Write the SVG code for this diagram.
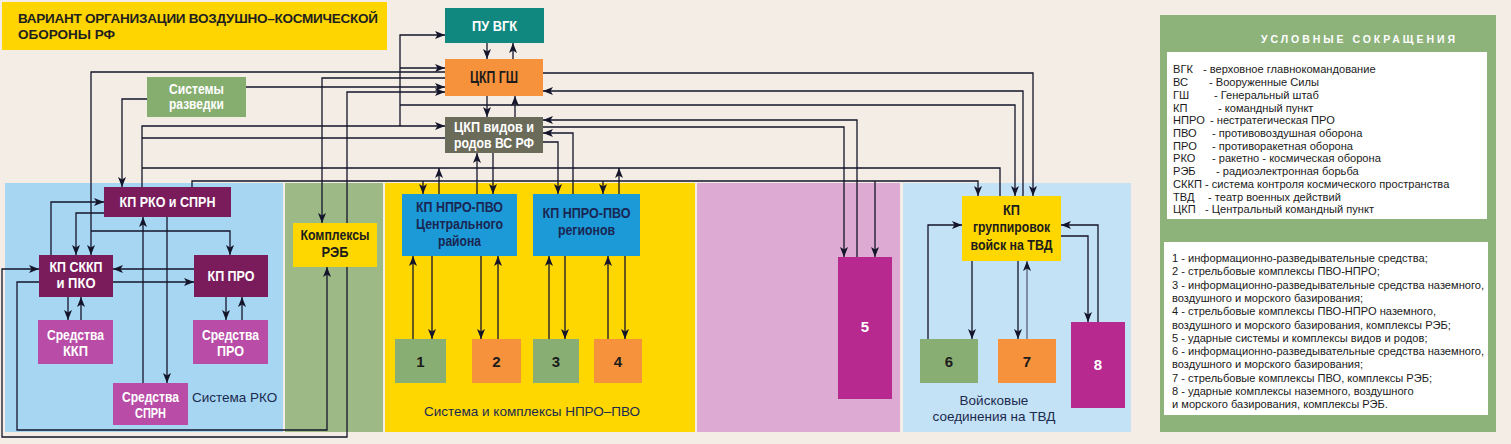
<svg xmlns="http://www.w3.org/2000/svg" width="1511" height="444" viewBox="0 0 1511 444">
<style>
.ln{fill:none;stroke:#14142a;stroke-width:1.3}
.ar{marker-end:url(#ah)}
.nb{font-family:"Liberation Sans Narrow","Liberation Sans",Arial,sans-serif;font-weight:bold;text-anchor:middle;font-size:15px}
.w{fill:#ffffff}
.d{fill:#1c1c1c}
.nv{fill:#1a2752}
.reg{font-family:"Liberation Sans",Arial,sans-serif;fill:#1b2a4e;font-size:13.5px}
.lg{font-family:"Liberation Sans",Arial,sans-serif;font-size:11.1px;fill:#1a1a1a}
.kp{fill:#7a1b5c}
.sr{fill:#b84ca6}
.bl{fill:#1c99d7}
.gr{fill:#89ae73}
.or{fill:#f6923b}
.pu{fill:#b7298f}
</style>
<defs>
<marker id="ah" viewBox="0 0 10 8" refX="10" refY="4" markerWidth="10" markerHeight="8" orient="auto" markerUnits="userSpaceOnUse"><path d="M0,0 L10,4 L0,8 L2.5,4 z" fill="#14142a"/></marker>
</defs>
<rect x="0" y="0" width="1511" height="444" fill="#f3ede5"/>

<g id="title">
<rect x="2" y="2" width="385" height="48" fill="#fed500"/>
<text x="18" y="23" font-family="Liberation Sans, Arial, sans-serif" font-weight="bold" font-size="13.5" fill="#1f1f1f" textLength="360">ВАРИАНТ ОРГАНИЗАЦИИ ВОЗДУШНО–КОСМИЧЕСКОЙ</text>
<text x="18" y="39" font-family="Liberation Sans, Arial, sans-serif" font-weight="bold" font-size="13.5" fill="#1f1f1f">ОБОРОНЫ РФ</text>
</g>

<g id="panels">
<rect x="5" y="183" width="278" height="249" fill="#a6d6f2"/>
<rect x="285" y="183" width="98" height="249" fill="#9dba86"/>
<rect x="385" y="183" width="310" height="249" fill="#fed700"/>
<rect x="697" y="183" width="203" height="249" fill="#dcaad3"/>
<rect x="903" y="183" width="228" height="249" fill="#c4e2f5"/>
<text class="reg" x="192" y="402">Система РКО</text>
<text class="reg" x="532" y="416" text-anchor="middle">Система и комплексы НПРО–ПВО</text>
<text class="reg" x="994" y="405" text-anchor="middle">Войсковые</text>
<text class="reg" x="994" y="421" text-anchor="middle">соединения на ТВД</text>
</g>

<g id="connectors">
<path class="ln ar" d="M487,43 V59"/>
<path class="ln ar" d="M513,59 V43"/>
<path class="ln ar" d="M487,96 V117"/>
<path class="ln ar" d="M515,117 V96"/>
<path class="ln ar" d="M142,187 V126 H445"/>
<path class="ln ar" d="M400,126 V35 H445"/>
<path class="ln ar" d="M400,68 H445"/>
<path class="ln ar" d="M400,105 H1015 V196"/>
<path class="ln" d="M445,138 H142"/>
<path class="ln" d="M142,168 H1000 V196"/>
<path class="ln ar" d="M439,194 V168"/>
<path class="ln ar" d="M619,194 V168"/>
<path class="ln ar" d="M192,187 V181 H978 V196"/>
<path class="ln ar" d="M423,181 V194"/>
<path class="ln ar" d="M603,181 V194"/>
<path class="ln ar" d="M875,181 V257"/>
<path class="ln ar" d="M445,72 H91 V255"/>
<path class="ln ar" d="M91,231 H230 V255"/>
<path class="ln ar" d="M445,78 H322 V223"/>
<path class="ln ar" d="M246,87 H445"/>
<path class="ln ar" d="M147,99 H122 V187"/>
<path class="ln ar" d="M347,200 V92 H445"/>
<path class="ln ar" d="M347,200 V437 H2 V269 H39"/>
<path class="ln ar" d="M543,73 H1033 V196"/>
<path class="ln ar" d="M1023,196 V91 H543"/>
<path class="ln ar" d="M857,257 V120 H543"/>
<path class="ln ar" d="M543,127 H844 V257"/>
<path class="ln ar" d="M573,194 V133 H543"/>
<path class="ln ar" d="M543,142 H558 V194"/>
<path class="ln ar" d="M477,194 V153"/>
<path class="ln ar" d="M493,153 V194"/>
<path class="ln ar" d="M413,339 V256"/>
<path class="ln ar" d="M432,256 V339"/>
<path class="ln ar" d="M481,256 V339"/>
<path class="ln ar" d="M498,339 V256"/>
<path class="ln ar" d="M549,339 V256"/>
<path class="ln ar" d="M565,256 V339"/>
<path class="ln ar" d="M608,339 V256"/>
<path class="ln ar" d="M625,256 V339"/>
<path class="ln ar" d="M928,339 V225 H962"/>
<path class="ln ar" d="M972,261 V339"/>
<path class="ln ar" d="M1018,261 V339"/>
<path class="ln ar" d="M1027,339 V261" style="stroke:#3a3a55;stroke-width:1"/>
<path class="ln ar" d="M1098,322 V225 H1061"/>
<path class="ln ar" d="M1061,236 H1088 V322"/>
<path class="ln ar" d="M104,213 H76 V255"/>
<path class="ln ar" d="M51,255 V202 H104"/>
<path class="ln ar" d="M68,297 V320"/>
<path class="ln ar" d="M81,320 V297"/>
<path class="ln ar" d="M226,297 V320"/>
<path class="ln ar" d="M242,320 V297"/>
<path class="ln ar" d="M194,269 H113"/>
<path class="ln ar" d="M113,282 H194"/>
<path class="ln ar" d="M39,282 H17 V430 H327 V267"/>
<path class="ln ar" d="M143,383 V217"/>
<path class="ln ar" d="M167,217 V383"/>
</g>

<g id="n-puvgk"><rect x="445" y="8" width="99" height="35" fill="#10877f"/><text class="nb w" x="494.5" y="31" textLength="45" lengthAdjust="spacingAndGlyphs">ПУ ВГК</text></g>
<g id="n-ckpgsh"><rect x="445" y="59" width="98" height="37" fill="#f6923b"/><text class="nb d" x="494" y="83" style="font-size:17px" textLength="48" lengthAdjust="spacingAndGlyphs">ЦКП ГШ</text></g>
<g id="n-ckpvidov"><rect x="445" y="117" width="98" height="36" fill="#6b6b5a"/><text class="nb w" x="494" y="132" textLength="80" lengthAdjust="spacingAndGlyphs">ЦКП видов и</text><text class="nb w" x="494" y="148" textLength="80" lengthAdjust="spacingAndGlyphs">родов ВС РФ</text></g>
<g id="n-razvedka"><rect x="147" y="77" width="99" height="40" fill="#86ae6f"/><text class="nb w" x="196.5" y="94" textLength="55" lengthAdjust="spacingAndGlyphs">Системы</text><text class="nb w" x="196.5" y="109" textLength="55" lengthAdjust="spacingAndGlyphs">разведки</text></g>

<g id="n-kprko"><rect class="kp" x="104" y="187" width="127" height="30"/><text class="nb w" x="167.5" y="207" textLength="96" lengthAdjust="spacingAndGlyphs">КП РКО и СПРН</text></g>
<g id="n-kpskkp"><rect class="kp" x="39" y="255" width="74" height="42"/><text class="nb w" x="76" y="272" textLength="53" lengthAdjust="spacingAndGlyphs">КП СККП</text><text class="nb w" x="76" y="288" textLength="39" lengthAdjust="spacingAndGlyphs">и ПКО</text></g>
<g id="n-kppro"><rect class="kp" x="194" y="255" width="74" height="42"/><text class="nb w" x="231" y="281" textLength="47" lengthAdjust="spacingAndGlyphs">КП ПРО</text></g>
<g id="n-sredkkp"><rect class="sr" x="38" y="320" width="75" height="44"/><text class="nb w" x="75.5" y="340" textLength="57" lengthAdjust="spacingAndGlyphs">Средства</text><text class="nb w" x="75.5" y="356" textLength="25" lengthAdjust="spacingAndGlyphs">ККП</text></g>
<g id="n-sredpro"><rect class="sr" x="193" y="320" width="75" height="44"/><text class="nb w" x="230.5" y="340" textLength="57" lengthAdjust="spacingAndGlyphs">Средства</text><text class="nb w" x="230.5" y="356" textLength="27" lengthAdjust="spacingAndGlyphs">ПРО</text></g>
<g id="n-sredsprn"><rect class="sr" x="113" y="383" width="75" height="42"/><text class="nb w" x="150.5" y="402" textLength="57" lengthAdjust="spacingAndGlyphs">Средства</text><text class="nb w" x="150.5" y="418" textLength="31" lengthAdjust="spacingAndGlyphs">СПРН</text></g>

<g id="n-reb"><rect x="293" y="223" width="84" height="44" fill="#fed700"/><text class="nb d" x="335" y="240" textLength="69" lengthAdjust="spacingAndGlyphs">Комплексы</text><text class="nb d" x="335" y="257" textLength="27" lengthAdjust="spacingAndGlyphs">РЭБ</text></g>

<g id="n-npro-c"><rect class="bl" x="402" y="194" width="115" height="62"/><text class="nb nv" x="459.5" y="212" textLength="87" lengthAdjust="spacingAndGlyphs">КП НПРО-ПВО</text><text class="nb nv" x="459.5" y="229" textLength="87" lengthAdjust="spacingAndGlyphs">Центрального</text><text class="nb nv" x="459.5" y="246" textLength="43" lengthAdjust="spacingAndGlyphs">района</text></g>
<g id="n-npro-r"><rect class="bl" x="533" y="194" width="107" height="62"/><text class="nb nv" x="586.5" y="218" textLength="88" lengthAdjust="spacingAndGlyphs">КП НПРО-ПВО</text><text class="nb nv" x="586.5" y="235" textLength="57" lengthAdjust="spacingAndGlyphs">регионов</text></g>
<g id="n-1"><rect class="gr" x="395" y="339" width="51" height="44"/><text class="nb d" x="420.5" y="367">1</text></g>
<g id="n-2"><rect class="or" x="472" y="339" width="49" height="44"/><text class="nb d" x="496.5" y="367">2</text></g>
<g id="n-3"><rect class="gr" x="533" y="339" width="46" height="44"/><text class="nb d" x="556" y="367">3</text></g>
<g id="n-4"><rect class="or" x="594" y="339" width="48" height="44"/><text class="nb d" x="618" y="367">4</text></g>

<g id="n-5"><rect class="pu" x="838" y="257" width="54" height="142"/><text class="nb w" x="865" y="332">5</text></g>
<g id="n-kpgr"><rect x="962" y="196" width="99" height="65" fill="#fed700"/><text class="nb d" x="1011.5" y="215" textLength="17" lengthAdjust="spacingAndGlyphs">КП</text><text class="nb d" x="1011.5" y="232" textLength="77" lengthAdjust="spacingAndGlyphs">группировок</text><text class="nb d" x="1011.5" y="250" textLength="82" lengthAdjust="spacingAndGlyphs">войск на ТВД</text></g>
<g id="n-6"><rect class="gr" x="920" y="339" width="58" height="44"/><text class="nb d" x="949" y="367">6</text></g>
<g id="n-7"><rect class="or" x="998" y="339" width="58" height="44"/><text class="nb d" x="1027" y="367">7</text></g>
<g id="n-8"><rect class="pu" x="1071" y="322" width="54" height="86"/><text class="nb w" x="1098" y="370">8</text></g>

<g id="legend">
<rect x="1160" y="15" width="336" height="417" fill="#8db37b"/>
<text x="1261" y="43" font-family="Liberation Sans, Arial, sans-serif" font-weight="bold" font-size="10.5" fill="#ffffff" textLength="194" lengthAdjust="spacing">УСЛОВНЫЕ СОКРАЩЕНИЯ</text>
<rect x="1167" y="52" width="320" height="167" fill="#ffffff"/>
<text class="lg" y="73.3"><tspan x="1173">ВГК</tspan><tspan x="1203">-  верховное главнокомандование</tspan></text>
<text class="lg" y="86"><tspan x="1173">ВС</tspan><tspan x="1209">- Вооруженные Силы</tspan></text>
<text class="lg" y="98.8"><tspan x="1173">ГШ</tspan><tspan x="1214">- Генеральный штаб</tspan></text>
<text class="lg" y="111.5"><tspan x="1173">КП</tspan><tspan x="1218">- командный пункт</tspan></text>
<text class="lg" y="124.2"><tspan x="1173">НПРО</tspan><tspan x="1210">- нестратегическая ПРО</tspan></text>
<text class="lg" y="137"><tspan x="1173">ПВО</tspan><tspan x="1212">- противовоздушная оборона</tspan></text>
<text class="lg" y="149.7"><tspan x="1173">ПРО</tspan><tspan x="1212">- противоракетная оборона</tspan></text>
<text class="lg" y="162.4"><tspan x="1173">РКО</tspan><tspan x="1212">- ракетно - космическая оборона</tspan></text>
<text class="lg" y="175.2"><tspan x="1173">РЭБ</tspan><tspan x="1216">- радиоэлектронная борьба</tspan></text>
<text class="lg" y="187.9"><tspan x="1173">СККП</tspan><tspan x="1205">- система контроля космического пространства</tspan></text>
<text class="lg" y="200.6"><tspan x="1173">ТВД</tspan><tspan x="1208">- театр военных действий</tspan></text>
<text class="lg" y="213.4"><tspan x="1173">ЦКП</tspan><tspan x="1205">- Центральный командный пункт</tspan></text>
<rect x="1164" y="242" width="324" height="173" fill="#ffffff"/>
<text class="lg" x="1172" y="262">1 - информационно-разведывательные средства;</text>
<text class="lg" x="1172" y="275.3">2 - стрельбовые комплексы ПВО-НПРО;</text>
<text class="lg" x="1172" y="288.6">3 - информационно-разведывательные средства наземного,</text>
<text class="lg" x="1172" y="301.9">воздушного и морского базирования;</text>
<text class="lg" x="1172" y="315.2">4 - стрельбовые комплексы ПВО-НПРО наземного,</text>
<text class="lg" x="1172" y="328.5">воздушного и морского базирования, комплексы РЭБ;</text>
<text class="lg" x="1172" y="341.8">5 - ударные системы и комплексы видов и родов;</text>
<text class="lg" x="1172" y="355.1">6 - информационно-разведывательные средства наземного,</text>
<text class="lg" x="1172" y="368.4">воздушного и морского базирования;</text>
<text class="lg" x="1172" y="381.7">7 - стрельбовые комплексы ПВО, комплексы РЭБ;</text>
<text class="lg" x="1172" y="395">8 - ударные комплексы наземного, воздушного</text>
<text class="lg" x="1172" y="408.3">и морского базирования, комплексы РЭБ.</text>
</g>
</svg>
